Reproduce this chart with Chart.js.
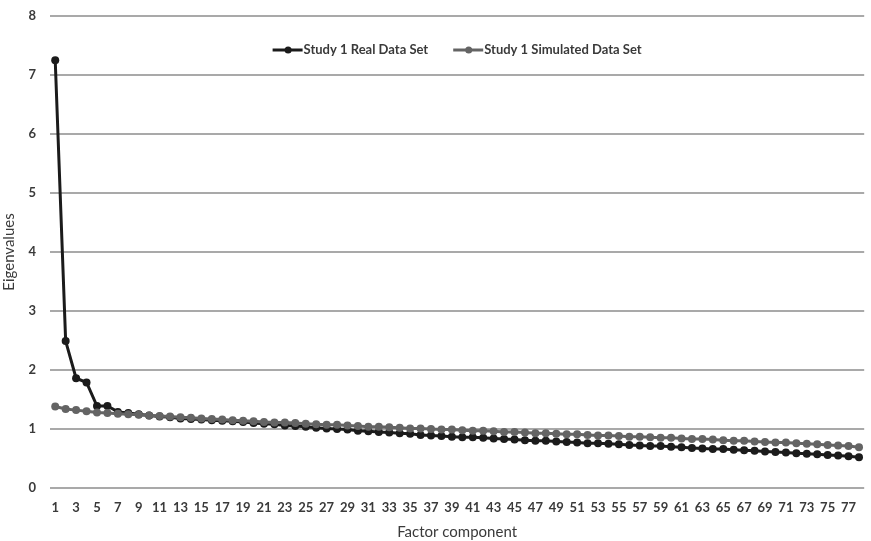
<!DOCTYPE html>
<html>
<head>
<meta charset="utf-8">
<script src="https://cdn.jsdelivr.net/npm/chart.js@4/dist/chart.umd.min.js"></script>
<style>
  html, body { margin: 0; padding: 0; background: #ffffff; }
  #wrap { width: 871px; height: 541px; position: relative; }
</style>
</head>
<body>
<div id="wrap"><canvas id="c" width="871" height="541"></canvas></div>
<script>
// ---- Data ----
const factorComponents = Array.from({length: 78}, (_, i) => String(i + 1));

const realDataLabel = "Study 1 Real Data Set";
const realEigenvalues = [
  7.25, 2.49, 1.86, 1.79, 1.39, 1.39, 1.29, 1.27, 1.25, 1.23,
  1.21, 1.20, 1.18, 1.17, 1.16, 1.15, 1.14, 1.13, 1.12, 1.10,
  1.09, 1.08, 1.06, 1.05, 1.04, 1.02, 1.01, 1.00, 0.99, 0.97,
  0.96, 0.95, 0.94, 0.93, 0.92, 0.90, 0.89, 0.88, 0.87, 0.86,
  0.86, 0.85, 0.84, 0.83, 0.82, 0.81, 0.80, 0.80, 0.79, 0.78,
  0.77, 0.76, 0.76, 0.75, 0.74, 0.73, 0.72, 0.71, 0.71, 0.70,
  0.69, 0.68, 0.67, 0.66, 0.66, 0.65, 0.64, 0.63, 0.62, 0.61,
  0.60, 0.59, 0.58, 0.57, 0.56, 0.55, 0.54, 0.52
];

const simulatedDataLabel = "Study 1 Simulated Data Set";
const simulatedEigenvalues = [
  1.38, 1.34, 1.32, 1.30, 1.28, 1.27, 1.26, 1.25, 1.24, 1.23,
  1.22, 1.21, 1.20, 1.19, 1.18, 1.17, 1.16, 1.15, 1.14, 1.13,
  1.12, 1.11, 1.11, 1.10, 1.09, 1.08, 1.07, 1.07, 1.06, 1.05,
  1.04, 1.04, 1.03, 1.02, 1.01, 1.01, 1.00, 0.99, 0.99, 0.98,
  0.97, 0.97, 0.96, 0.95, 0.95, 0.94, 0.93, 0.93, 0.92, 0.91,
  0.91, 0.90, 0.89, 0.89, 0.88, 0.87, 0.87, 0.86, 0.85, 0.85,
  0.84, 0.83, 0.83, 0.82, 0.81, 0.80, 0.80, 0.79, 0.78, 0.77,
  0.77, 0.76, 0.75, 0.74, 0.73, 0.72, 0.71, 0.69
];

const yAxisTitle = "Eigenvalues";
const xAxisTitle = "Factor component";
const yMin = 0, yMax = 8, yStep = 1;

// ---- Styles ----
const realColor = "#1b1b1b";
const simColor = "#646464";
const gridColor = "#a9a9a9";
const textColor = "#3a3a3a";
const fontFamily = "Lato, 'Open Sans', 'Liberation Sans', sans-serif";

// Legend drawn inside the plot area, centred, like the original
const insideLegend = {
  id: "insideLegend",
  afterDraw(chart) {
    const ctx = chart.ctx;
    const area = chart.chartArea;
    const sets = chart.data.datasets;
    const markerW = 31, gap = 25;
    const y = area.top + 34;
    ctx.save();
    ctx.font = "bold 13px " + fontFamily;
    const widths = sets.map(ds => markerW + ctx.measureText(ds.label).width);
    const total = widths.reduce((a, b) => a + b, 0) + gap * (sets.length - 1);
    let x = (area.left + area.right) / 2 - total / 2;
    sets.forEach((ds, i) => {
      ctx.strokeStyle = ds.borderColor;
      ctx.lineWidth = 3;
      ctx.beginPath();
      ctx.moveTo(x, y);
      ctx.lineTo(x + markerW - 1, y);
      ctx.stroke();
      ctx.fillStyle = ds.borderColor;
      ctx.beginPath();
      ctx.arc(x + markerW / 2, y, 3.5, 0, Math.PI * 2);
      ctx.fill();
      ctx.fillStyle = textColor;
      ctx.textBaseline = "middle";
      ctx.textAlign = "left";
      ctx.fillText(ds.label, x + markerW, y);
      x += widths[i] + gap;
    });
    ctx.restore();
  }
};

new Chart(document.getElementById("c"), {
  type: "line",
  data: {
    labels: factorComponents,
    datasets: [
      {
        label: realDataLabel,
        data: realEigenvalues,
        borderColor: realColor,
        backgroundColor: realColor,
        borderWidth: 3,
        pointRadius: 4,
        pointBorderWidth: 0,
        pointBackgroundColor: realColor,
        tension: 0,
        order: 1
      },
      {
        label: simulatedDataLabel,
        data: simulatedEigenvalues,
        borderColor: simColor,
        backgroundColor: simColor,
        borderWidth: 3,
        pointRadius: 4,
        pointBorderWidth: 0,
        pointBackgroundColor: simColor,
        tension: 0,
        order: 0
      }
    ]
  },
  plugins: [insideLegend],
  options: {
    responsive: false,
    animation: false,
    devicePixelRatio: 1,
    layout: { padding: { top: 16, right: 0, left: 0, bottom: 0 } },
    plugins: {
      tooltip: { enabled: false },
      legend: { display: false }
    },
    scales: {
      x: {
        type: "category",
        offset: true,
        grid: { display: false, drawTicks: false },
        border: { display: false },
        ticks: {
          autoSkip: false,
          maxRotation: 0,
          minRotation: 0,
          padding: 12,
          color: textColor,
          font: { family: fontFamily, size: 13, weight: "bold" },
          callback: function (val, idx) {
            return idx % 2 === 0 ? this.getLabelForValue(val) : "";
          }
        },
        title: {
          display: true,
          text: xAxisTitle,
          color: textColor,
          font: { family: fontFamily, size: 15 },
          padding: { top: 1, bottom: 0 }
        },
        afterFit(scale) { scale.height = 53; }
      },
      y: {
        min: yMin,
        max: yMax,
        grid: { color: gridColor, lineWidth: 2, drawTicks: false },
        border: { display: false },
        ticks: {
          stepSize: yStep,
          padding: 14,
          color: textColor,
          font: { family: fontFamily, size: 13, weight: "bold", lineHeight: 0.6 }
        },
        title: {
          display: true,
          text: yAxisTitle,
          color: textColor,
          font: { family: fontFamily, size: 15 },
          padding: { top: 0, bottom: 0 }
        },
        afterFit(scale) {
          scale.width = 50;
          scale.paddingTop = 0;
          scale.paddingBottom = 0;
        }
      }
    }
  }
});
</script>
</body>
</html>
